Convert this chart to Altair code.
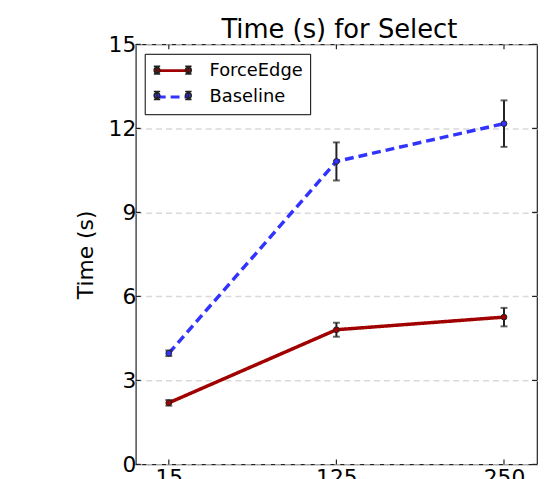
import altair as alt
import pandas as pd

title_text = ["Time (s) for Select"]
sizes = ["15", "125", "250"]
series_names = ["ForceEdge", "Baseline"]
force_mean = [2.20, 4.81, 5.26]
force_err = [0.10, 0.25, 0.33]
base_mean = [3.97, 10.82, 12.17]
base_err = [0.10, 0.68, 0.83]
y_ticks = [0, 3, 6, 9, 12, 15]
line_colors = ["#a00000", "#3333ff"]
line_dashes = [[1, 0], [9, 5]]

rows = []
for name, means, errs in [("ForceEdge", force_mean, force_err), ("Baseline", base_mean, base_err)]:
    for s, m, e in zip(sizes, means, errs):
        rows.append({"size": s, "series": name, "series_mk": name, "mean": m, "lo": m - e, "hi": m + e})
df = pd.DataFrame(rows)
ticks_df = pd.DataFrame({"v": y_ticks})
x_df = pd.DataFrame({"size": sizes})
title_df = pd.DataFrame({"t": title_text})

W, H = 405, 424
FONT = "DejaVu Sans"
FRAME = "#222222"
YT = "Time (s)"

xscale = alt.Scale(type="point", padding=0.197, domain=sizes)
yscale = alt.Scale(domain=[0, 15], nice=False, zero=True)

x_enc = alt.X("size:N", sort=sizes, scale=xscale, title=None)


def y_enc(field, axis=False):
    if axis:
        return alt.Y(field, type="quantitative", scale=yscale, title=YT, axis=alt.Axis(values=y_ticks))
    return alt.Y(field, type="quantitative", scale=yscale, title=YT)


# legend geometry (symbol size 256 -> unit = 8px)
LEG_X, LEG_Y, LEG_PAD = 9, 9.5, 7.5
line_path = "M-1.98,0H1.98"
mk_path = ("M-1.98,-0.5V0.5M-2.38,-0.5H-1.58M-2.38,0.5H-1.58"
           "M1.98,-0.5V0.5M1.58,-0.5H2.38M1.58,0.5H2.38"
           "M-1.62,0A0.36,0.36 0 1,1 -2.34,0A0.36,0.36 0 1,1 -1.62,0Z"
           "M2.34,0A0.36,0.36 0 1,1 1.62,0A0.36,0.36 0 1,1 2.34,0Z")

legend_lines = alt.Legend(title=None, orient="none", legendX=LEG_X, legendY=LEG_Y, padding=LEG_PAD,
                          strokeColor="black", cornerRadius=0,
                          labelFontSize=18, labelFont=FONT, labelColor="black", labelOffset=28,
                          symbolType=line_path, symbolSize=256, symbolStrokeWidth=3,
                          symbolOffset=11, rowPadding=7.6)
legend_marks = alt.Legend(title=None, orient="none", legendX=LEG_X, legendY=LEG_Y, padding=LEG_PAD,
                          labelFontSize=18, labelFont=FONT, labelOpacity=0, labelOffset=28,
                          symbolType=mk_path, symbolSize=256, symbolStrokeWidth=1.5,
                          symbolStrokeColor="#222222", symbolOpacity=1,
                          symbolOffset=11.75, rowPadding=7.6)

color = alt.Color("series:N", scale=alt.Scale(domain=series_names, range=line_colors), legend=legend_lines)
dash = alt.StrokeDash("series:N", scale=alt.Scale(domain=series_names, range=line_dashes), legend=legend_lines)
fill = alt.Fill("series_mk:N", sort=series_names, scale=alt.Scale(range=line_colors), legend=legend_marks)

lines = alt.Chart(df).mark_line(strokeWidth=3.5).encode(
    x=x_enc, y=y_enc("mean", axis=True), color=color, strokeDash=dash, detail="series:N")

bars = alt.Chart(df).mark_rule(color="#222222", strokeWidth=2).encode(
    x=x_enc, y=y_enc("lo"), y2="hi:Q")
caps_lo = alt.Chart(df).mark_tick(orient="horizontal", size=7, thickness=2, color="#222222").encode(
    x=x_enc, y=y_enc("lo"))
caps_hi = alt.Chart(df).mark_tick(orient="horizontal", size=7, thickness=2, color="#222222").encode(
    x=x_enc, y=y_enc("hi"))

points = alt.Chart(df).mark_circle(size=34, stroke="#222222", strokeWidth=1, opacity=1).encode(
    x=x_enc, y=y_enc("mean"), fill=fill)

tick_l = alt.Chart(ticks_df).mark_rule(color=FRAME, strokeWidth=1.2).encode(
    y=y_enc("v"), x=alt.value(0), x2=alt.value(5))
tick_r = alt.Chart(ticks_df).mark_rule(color=FRAME, strokeWidth=1.2).encode(
    y=y_enc("v"), x=alt.value(W - 5), x2=alt.value(W))
tick_t = alt.Chart(x_df).mark_rule(color=FRAME, strokeWidth=1.2).encode(
    x=x_enc, y=alt.value(0), y2=alt.value(5))
tick_b = alt.Chart(x_df).mark_rule(color=FRAME, strokeWidth=1.2).encode(
    x=x_enc, y=alt.value(H - 5), y2=alt.value(H))

title = alt.Chart(title_df).mark_text(font=FONT, fontSize=26, color="black", align="center",
                                      baseline="alphabetic").encode(
    text="t:N", x=alt.value(W / 2 + 3), y=alt.value(-6))

chart = alt.layer(lines, bars, caps_lo, caps_hi, points, tick_l, tick_r, tick_t, tick_b, title).properties(
    width=W, height=H,
    autosize="none",
    padding={"left": 129, "top": 34.5, "right": 1, "bottom": 12.5},
).configure_view(stroke=FRAME, strokeWidth=1.2).configure_axisX(
    labelAngle=0, ticks=False, domain=False, grid=False,
    labelFontSize=22, labelPadding=3, labelFont=FONT, labelColor="black"
).configure_axisY(
    domain=False, ticks=False, grid=True,
    gridDash=[6, 4], gridColor="#d9d9d9", gridWidth=1.5,
    labelFontSize=22, labelPadding=0, labelFont=FONT, labelColor="black",
    titleFontSize=22, titleFont=FONT, titleFontWeight="normal",
    titleColor="black", titlePadding=11)

chart.save("out.html", embed_options={"renderer": "svg", "actions": False})
